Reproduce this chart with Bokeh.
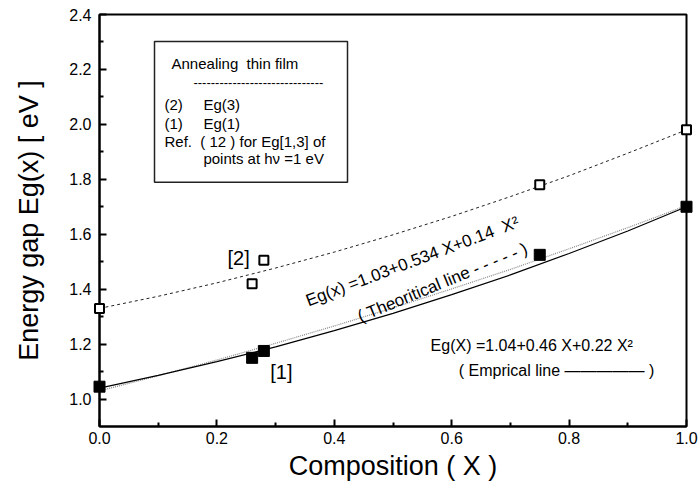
from bokeh.plotting import figure
from bokeh.models import Range1d, FixedTicker, Label, BoxAnnotation, PrintfTickFormatter
from bokeh.embed import file_html
from bokeh.resources import INLINE

# ---------------- data ----------------
comp_open = [0.0, 0.26, 0.28, 0.75, 1.0]          # Eg(3) open squares
eg3_open = [1.33, 1.42, 1.505, 1.78, 1.98]
comp_filled = [0.0, 0.26, 0.28, 0.75, 1.0]        # Eg(1) filled squares
eg1_filled = [1.045, 1.15, 1.175, 1.525, 1.70]

curve_x = [0.0, 0.1, 0.2, 0.3, 0.4, 0.5, 0.6, 0.7, 0.8, 0.9, 1.0]
fit_eg3 = [1.33, 1.374, 1.423, 1.477, 1.535, 1.598, 1.665, 1.737, 1.813, 1.895, 1.98]
fit_empirical = [1.04, 1.086, 1.136, 1.19, 1.249, 1.312, 1.38, 1.452, 1.53, 1.612, 1.70]
fit_theoretical = [1.03, 1.085, 1.142, 1.203, 1.266, 1.332, 1.401, 1.472, 1.547, 1.624, 1.704]

x_ticks = [0.0, 0.2, 0.4, 0.6, 0.8, 1.0]
x_minor = [0.1, 0.3, 0.5, 0.7, 0.9]
y_ticks = [1.0, 1.2, 1.4, 1.6, 1.8, 2.0, 2.2, 2.4]
y_minor = [1.1, 1.3, 1.5, 1.7, 1.9, 2.1, 2.3]

FONT = "Liberation Sans"
NB = "\u00a0"

p = figure(width=699, height=488, output_backend="svg", toolbar_location=None,
           x_range=Range1d(0, 1), y_range=Range1d(0.9, 2.4),
           min_border_left=99, min_border_right=13, min_border_top=14, min_border_bottom=62,
           x_axis_label="Composition ( X )", y_axis_label="Energy gap Eg(x) [ eV ]")
p.background_fill_color = "white"
p.border_fill_color = "white"
p.grid.visible = False
p.outline_line_color = "black"
p.outline_line_width = 2
p.outline_line_alpha = 1

p.xaxis.ticker = FixedTicker(ticks=x_ticks, minor_ticks=x_minor)
p.yaxis.ticker = FixedTicker(ticks=y_ticks, minor_ticks=y_minor)
for ax in (p.xaxis, p.yaxis):
    ax.formatter = PrintfTickFormatter(format="%.1f")
    ax.axis_line_width = 2
    ax.axis_line_color = "black"
    ax.major_tick_in = 7
    ax.major_tick_out = 0
    ax.minor_tick_in = 4
    ax.minor_tick_out = 0
    ax.major_tick_line_width = 2
    ax.minor_tick_line_width = 2
    ax.major_tick_line_color = "black"
    ax.minor_tick_line_color = "black"
    ax.major_label_text_font = FONT
    ax.major_label_text_font_size = "16px"
    ax.major_label_text_color = "black"
    ax.axis_label_text_font = FONT
    ax.axis_label_text_font_size = "27px"
    ax.axis_label_text_font_style = "normal"
    ax.axis_label_text_color = "black"
p.xaxis.major_label_standoff = 5
p.xaxis.axis_label_standoff = 4
p.yaxis.major_label_standoff = 8
p.yaxis.axis_label_standoff = 22

# fitted curves
p.line(curve_x, fit_eg3, line_color="#222222", line_width=1, line_dash="3 3")
p.line(curve_x, fit_theoretical, line_color="#888888", line_width=1.2, line_dash="1 1")
p.line(curve_x, fit_empirical, line_color="black", line_width=1.2)

# data points
p.scatter(comp_open, eg3_open, marker="square", size=9, fill_color="white",
          line_color="black", line_width=2, level="overlay")
p.scatter(comp_filled, eg1_filled, marker="square", size=11, fill_color="black",
          line_color="black", line_width=1, level="overlay")

# legend-like box
p.add_layout(BoxAnnotation(left=0.0937, right=0.4225, top=2.302, bottom=1.789,
                           fill_alpha=0, line_color="#222222", line_alpha=1, line_width=1.5))


def lab(x, y, text, size="15px", angle=0.0, baseline="middle"):
    p.add_layout(Label(x=x, y=y, text=text, text_font=FONT, text_font_size=size,
                       text_color="black", text_align="left", text_baseline=baseline,
                       angle=angle, angle_units="rad"))


lab(0.1227, 2.222, "Annealing" + NB + NB + "thin film")
lab(0.160, 2.153, "-" * 30, size="13px")
lab(0.1107, 2.073, "(2)")
lab(0.177, 2.073, "Eg(3)")
lab(0.1107, 2.004, "(1)")
lab(0.177, 2.004, "Eg(1)")
lab(0.1107, 1.938, "Ref." + NB + NB + "( 12 ) for Eg[1,3] of")
lab(0.177, 1.876, "points at h\u03bd =1 eV")

lab(0.218, 1.513, "[2]", size="20px")
lab(0.291, 1.098, "[1]", size="20px")

lab(0.3526, 1.356, "Eg(x) =1.03+0.534 X+0.14" + NB + NB + "X\u00b2", size="17px", angle=0.36,
    baseline="alphabetic")
lab(0.441, 1.298, "( Theoritical line - - - - - )", size="17px", angle=0.39,
    baseline="alphabetic")

lab(0.564, 1.196, "Eg(X) =1.04+0.46 X+0.22 X\u00b2", size="16px")
lab(0.612, 1.105, "( Emprical line \u2014\u2014\u2014\u2014\u2014 )", size="16px")

open("out.html", "w").write(file_html(p, INLINE))
